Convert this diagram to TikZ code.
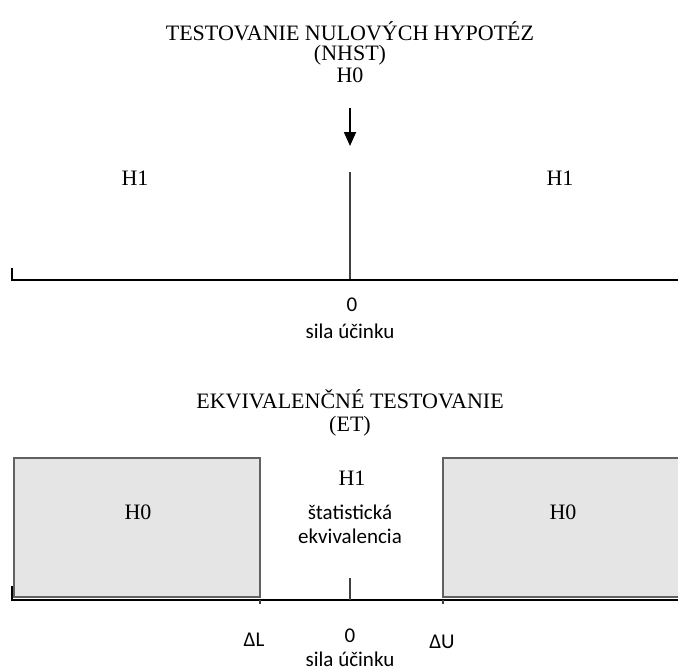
\documentclass[tikz,border=0pt]{standalone}
\usepackage{fontspec}
\setmainfont{Liberation Serif}
\newfontfamily\calibri{Carlito}
\usetikzlibrary{arrows.meta,positioning}

\begin{document}
\begin{tikzpicture}[
    x=1pt, y=-1pt,
    serif/.style={font=\fontsize{22}{26}\selectfont, inner sep=0, anchor=base},
    sans/.style={font=\calibri\fontsize{21}{25}\selectfont, inner sep=0},
    axis/.style={line width=1.8pt, black},
    tick/.style={line width=1.4pt, black!75},
    region/.style={draw=black!62, line width=2pt, fill=black!10}]
\useasboundingbox (0,0) rectangle (678,672);

% NHST
\node[serif] (nhstTitle) at (350,40) {TESTOVANIE NULOVÝCH HYPOTÉZ};
\node[serif] (nhstAbbr)  at (350,60) {(NHST)};
\node[serif] (nhstHnull) at (350,82) {H0};
\node[serif] (nhstHaltL) at (135,185) {H1};
\node[serif] (nhstHaltR) at (560,185) {H1};
\coordinate (nhstArrowTop) at (350,108);
\coordinate (nhstArrowEnd) at (350,146);
\coordinate (nhstZeroTop)  at (350,172);
\coordinate (nhstAxisL)    at (12,280);
\coordinate (nhstAxisR)    at (678,280);
\coordinate (nhstAxisZero) at (350,280);
\draw[line width=1.8pt, -{Triangle[length=14pt,width=12pt]}] (nhstArrowTop) -- (nhstArrowEnd);
\draw[tick] (nhstZeroTop) -- (nhstAxisZero);
\draw[axis] ([yshift=12pt]nhstAxisL) -- (nhstAxisL) -- (nhstAxisR);
\node[sans] (nhstZero) at (352,305) {0};
\node[sans] (nhstEffect) at (350,331) {sila účinku};

% ET
\node[serif] (etTitle) at (350,408) {EKVIVALENČNÉ TESTOVANIE};
\node[serif] (etAbbr)  at (350,431) {(ET)};
\draw[region] (14,458) rectangle (260,597);
\draw[region] (443,458) rectangle (690,597);
\node[serif] (etHnullL) at (138,519) {H0};
\node[serif] (etHnullR) at (563,519) {H0};
\node[serif] (etHalt) at (352,485) {H1};
\node[sans] (etEquivA) at (350,512) {štatistická};
\node[sans] (etEquivB) at (350,536) {ekvivalencia};
\coordinate (etAxisL)    at (12,600);
\coordinate (etAxisR)    at (678,600);
\coordinate (etAxisZero) at (350,600);
\coordinate (etAxisLow)  at (260,600);
\coordinate (etAxisUp)   at (443,600);
\draw[axis] ([yshift=14pt]etAxisL) -- (etAxisL) -- (etAxisR);
\draw[tick] ([yshift=22pt]etAxisZero) -- (etAxisZero);
\draw[tick] (etAxisLow) -- ++(0,4);
\draw[tick] (etAxisUp) -- ++(0,4);
\node[sans] (etLow)  at (254,640) {ΔL};
\node[sans] (etZero) at (350,636) {0};
\node[sans] (etUp)   at (442,642) {ΔU};
\node[sans] (etEffect) at (350,659) {sila účinku};
\end{tikzpicture}
\end{document}
